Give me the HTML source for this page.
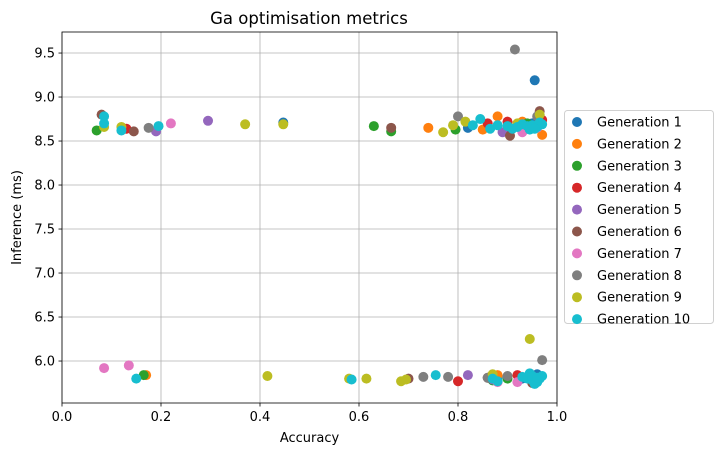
<!DOCTYPE html>
<html><head><meta charset="utf-8"><style>
body{margin:0;background:#fff;width:723px;height:455px;overflow:hidden;font-family:"DejaVu Sans","Liberation Sans",sans-serif}
</style></head><body>
<svg id="chart" width="723" height="455" xmlns="http://www.w3.org/2000/svg" font-family="DejaVu Sans, Liberation Sans, sans-serif">
<text x="309" y="24" font-size="16.5" text-anchor="middle">Ga optimisation metrics</text>
<g id="grid"></g><g id="marks"></g><g id="axes"></g><g id="legend"></g>
</svg>
<script>
const xTicks=[0.0,0.2,0.4,0.6,0.8,1.0];
const yTicks=[6.0,6.5,7.0,7.5,8.0,8.5,9.0,9.5];
const seriesNames=["Generation 1","Generation 2","Generation 3","Generation 4","Generation 5","Generation 6","Generation 7","Generation 8","Generation 9","Generation 10"];
const colors=["#1f77b4","#ff7f0e","#2ca02c","#d62728","#9467bd","#8c564b","#e377c2","#7f7f7f","#bcbd22","#17becf"];
const gen1=[[0.447,8.71],[0.955,9.19],[0.82,8.65],[0.90,8.62],[0.95,8.70],[0.88,5.82],[0.96,5.85],[0.93,5.80]];
const gen2=[[0.17,5.84],[0.74,8.65],[0.85,8.63],[0.88,8.78],[0.97,8.57],[0.93,8.72],[0.96,5.80],[0.88,5.84]];
const gen3=[[0.07,8.62],[0.63,8.67],[0.665,8.61],[0.795,8.63],[0.165,5.84],[0.87,5.78],[0.94,8.70],[0.90,5.80]];
const gen4=[[0.13,8.64],[0.80,5.77],[0.92,5.84],[0.97,8.74],[0.90,8.72],[0.95,5.82],[0.86,8.70]];
const gen5=[[0.295,8.73],[0.19,8.61],[0.82,5.84],[0.89,8.60],[0.93,8.65],[0.96,5.78],[0.87,5.79]];
const gen6=[[0.08,8.80],[0.145,8.61],[0.665,8.65],[0.905,8.56],[0.965,8.84],[0.95,5.75],[0.70,5.80],[0.86,5.81]];
const gen7=[[0.085,5.92],[0.135,5.95],[0.22,8.70],[0.93,8.60],[0.92,5.76],[0.96,8.65],[0.88,5.76]];
const gen8=[[0.915,9.54],[0.97,6.01],[0.175,8.65],[0.80,8.78],[0.73,5.82],[0.78,5.82],[0.86,5.81],[0.96,8.78],[0.90,5.83]];
const gen9=[[0.085,8.66],[0.12,8.66],[0.37,8.69],[0.447,8.69],[0.415,5.83],[0.58,5.80],[0.615,5.80],[0.685,5.77],[0.695,5.79],[0.77,8.60],[0.945,6.25],[0.815,8.72],[0.79,8.68],[0.965,8.80],[0.87,5.85],[0.95,8.66],[0.92,8.70]];
const gen10=[[0.085,8.78],[0.085,8.70],[0.12,8.62],[0.15,5.80],[0.195,8.67],[0.585,5.79],[0.755,5.84],[0.83,8.68],[0.845,8.75],[0.865,8.64],[0.88,8.68],[0.90,8.67],[0.91,8.64],[0.92,8.66],[0.93,8.69],[0.94,8.67],[0.95,8.68],[0.945,8.63],[0.96,8.66],[0.965,8.71],[0.97,8.69],[0.955,8.64],[0.87,5.80],[0.88,5.77],[0.93,5.82],[0.94,5.80],[0.95,5.78],[0.96,5.76],[0.965,5.80],[0.97,5.83],[0.955,5.74],[0.945,5.86],[0.95,5.83],[0.96,5.81]];
const allSeries=[gen1,gen2,gen3,gen4,gen5,gen6,gen7,gen8,gen9,gen10];

const NS="http://www.w3.org/2000/svg";
const L=62,R=557,T=32,B=403;
const xMin=0,xMax=1,yMin=5.523,yMax=9.739;
function sx(v){return L+(v-xMin)/(xMax-xMin)*(R-L);}
function sy(v){return B-(v-yMin)/(yMax-yMin)*(B-T);}
function mk(tag,attrs,parent){const e=document.createElementNS(NS,tag);for(const k in attrs)e.setAttribute(k,attrs[k]);parent.appendChild(e);return e;}
const grid=document.getElementById('grid'),marks=document.getElementById('marks'),axes=document.getElementById('axes'),legend=document.getElementById('legend');
xTicks.forEach(t=>{const x=sx(t);
 const g=mk('line',{x1:x,x2:x,y1:T,y2:B,stroke:'#b0b0b0','stroke-width':0.8},grid);
 
 
 mk('line',{x1:x,x2:x,y1:B,y2:B+3.5,stroke:'#000','stroke-width':0.8},axes);
 const tx=mk('text',{x:x,y:B+18,'font-size':13,'text-anchor':'middle'},axes);tx.textContent=t.toFixed(1);
 
 
});
yTicks.forEach(t=>{const y=sy(t);
 const g=mk('line',{x1:L,x2:R,y1:y,y2:y,stroke:'#b0b0b0','stroke-width':0.8},grid);
 
 
 mk('line',{x1:L-3.5,x2:L,y1:y,y2:y,stroke:'#000','stroke-width':0.8},axes);
 const tx=mk('text',{x:L-7,y:y+4.5,'font-size':13,'text-anchor':'end'},axes);tx.textContent=t.toFixed(1);
 
 
});
allSeries.forEach((s,i)=>{s.forEach(p=>{
 const c=mk('circle',{cx:sx(p[0]),cy:sy(p[1]),r:5,fill:colors[i]},marks);
 
 
});});
const fr=mk('rect',{x:L,y:T,width:R-L,height:B-T,fill:'none',stroke:'#000','stroke-width':0.8},axes);


const xl=mk('text',{x:(L+R)/2,y:442,'font-size':13,'text-anchor':'middle'},axes);xl.textContent='Accuracy';


const yl=mk('text',{x:21,y:(T+B)/2,'font-size':13,'text-anchor':'middle',transform:'rotate(-90 21 '+((T+B)/2)+')'},axes);yl.textContent='Inference (ms)';


const lb=mk('rect',{x:564.5,y:110.5,width:149,height:213,rx:3,fill:'#fff',stroke:'#d0d0d0','stroke-width':1},legend);


seriesNames.forEach((n,i)=>{const y=122+i*21.9;
 const c=mk('circle',{cx:577,cy:y,r:5,fill:colors[i]},legend);
 
 
 const t=mk('text',{x:597,y:y+4.5,'font-size':13},legend);t.textContent=n;
 
 
});
</script>
</body></html>
